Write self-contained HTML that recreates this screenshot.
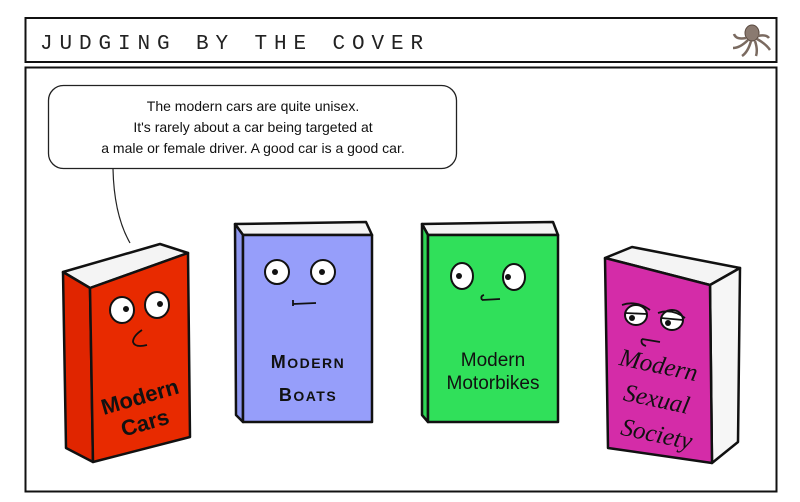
<!DOCTYPE html>
<html><head><meta charset="utf-8"><style>
html,body{margin:0;padding:0;background:#fff;}
svg{display:block}
</style></head><body>
<svg width="800" height="502" viewBox="0 0 800 502" xmlns="http://www.w3.org/2000/svg">
<rect x="0" y="0" width="800" height="502" fill="#fff"/>
<rect x="25.5" y="18" width="751" height="44" fill="#fff" stroke="#111" stroke-width="2"/>
<text x="40" y="49" font-family="Liberation Mono, monospace" font-size="21" letter-spacing="6.9" fill="#222">JUDGING BY THE COVER</text>
<g fill="#8a7a70" stroke="#5a4a40" stroke-width="1">
<ellipse cx="752" cy="33" rx="7" ry="8"/>
<path d="M746 38 Q736 40 734 34 M748 40 Q740 48 733 48 M751 41 Q748 52 742 56 M755 41 Q758 50 756 56 M757 39 Q766 44 770 50 M758 36 Q766 34 769 38" fill="none" stroke="#7a6a60" stroke-width="2.5"/>
</g>
<rect x="25.5" y="67.5" width="751" height="424" fill="#fff" stroke="#111" stroke-width="2"/>
<rect x="48.5" y="85.5" width="408" height="83" rx="15" fill="#fff" stroke="#222" stroke-width="1.3"/>
<g font-family="Liberation Sans, sans-serif" font-size="14" fill="#111" text-anchor="middle">
<text x="253" y="111">The modern cars are quite unisex.</text>
<text x="253" y="132">It's rarely about a car being targeted at</text>
<text x="253" y="153">a male or female driver. A good car is a good car.</text>
</g>
<path d="M113 169 Q114 215 130 243" fill="none" stroke="#222" stroke-width="1.2"/>

<g stroke="#111" stroke-width="2.5" stroke-linejoin="round">
<polygon points="63,272 160,244 188,253 90,288" fill="#f4f4f4"/>
<polygon points="63,272 90,288 93,462 66,448" fill="#e02500"/>
<polygon points="90,288 188,253 190,437 93,462" fill="#e82a00"/>
<polygon points="235,224 366,222 372,235 243,235" fill="#f4f4f4"/>
<polygon points="235,224 243,235 243,422 236,415" fill="#8f98f0"/>
<rect x="243" y="235" width="129" height="187" fill="#969efa"/>
<polygon points="422,224 553,222 558,235 428,235" fill="#f4f4f4"/>
<polygon points="422,224 428,235 428,422 422,415" fill="#2fd655"/>
<rect x="428" y="235" width="130" height="187" fill="#30e05a"/>
<polygon points="605,258 632,247 740,268 710,285" fill="#f4f4f4"/>
<polygon points="710,285 740,268 738,442 712,463" fill="#f6f6f6"/>
<polygon points="605,258 710,285 712,463 608,448" fill="#d42ca8"/>
</g>
<g stroke="#111" stroke-width="2" fill="#fff">
<ellipse cx="122" cy="310" rx="12" ry="13"/><ellipse cx="157" cy="305" rx="12" ry="13"/>
<ellipse cx="277" cy="272" rx="12" ry="12"/><ellipse cx="323" cy="272" rx="12" ry="12"/>
<ellipse cx="462" cy="276" rx="11" ry="13"/><ellipse cx="514" cy="277" rx="11" ry="13"/>
<ellipse cx="636" cy="315" rx="11" ry="10"/><ellipse cx="672" cy="320" rx="11" ry="10"/>
</g>
<g fill="#111">
<circle cx="126" cy="309" r="3"/><circle cx="160" cy="304" r="3"/>
<circle cx="275" cy="272" r="3"/><circle cx="322" cy="272" r="3"/>
<circle cx="459" cy="276" r="3"/><circle cx="508" cy="277" r="3"/>
<circle cx="632" cy="318" r="3"/><circle cx="668" cy="323" r="3"/>
</g>
<g fill="none" stroke="#111" stroke-width="1.8">
<path d="M142 330 Q133 336 133 342 Q135 348 147 345"/>
<path d="M293 304 L316 303 M293 300 L293 306"/>
<path d="M482 300 L500 299 M482 300 Q480 296 484 295"/>
<path d="M625 313 L647 314 M661 318 L683 320"/>
<path d="M622 305 Q636 300 650 310 M658 313 Q672 308 685 318"/>
<path d="M642 339 L660 342 M642 339 Q640 344 646 346"/>
</g>
<g font-family="Liberation Sans, sans-serif" fill="#111">
<text x="142" y="404" font-size="22" font-weight="bold" text-anchor="middle" transform="rotate(-16 142 404)">Modern</text>
<text x="147" y="430" font-size="22" font-weight="bold" text-anchor="middle" transform="rotate(-16 147 430)">Cars</text>
<text x="308" y="368" font-size="18" font-weight="bold" text-anchor="middle" letter-spacing="1.5">M<tspan font-size="14">ODERN</tspan></text>
<text x="308" y="401" font-size="18" font-weight="bold" text-anchor="middle" letter-spacing="1.5">B<tspan font-size="14">OATS</tspan></text>
<text x="493" y="366" font-size="19" text-anchor="middle">Modern</text>
<text x="493" y="389" font-size="19" text-anchor="middle">Motorbikes</text>
<g font-family="Liberation Serif, serif" font-style="italic" font-size="25">
<text x="657" y="373" text-anchor="middle" transform="rotate(12 657 373)">Modern</text>
<text x="655" y="407" text-anchor="middle" transform="rotate(12 655 407)">Sexual</text>
<text x="655" y="442" text-anchor="middle" transform="rotate(12 655 442)">Society</text>
</g>
</g>
</svg>
</body></html>
